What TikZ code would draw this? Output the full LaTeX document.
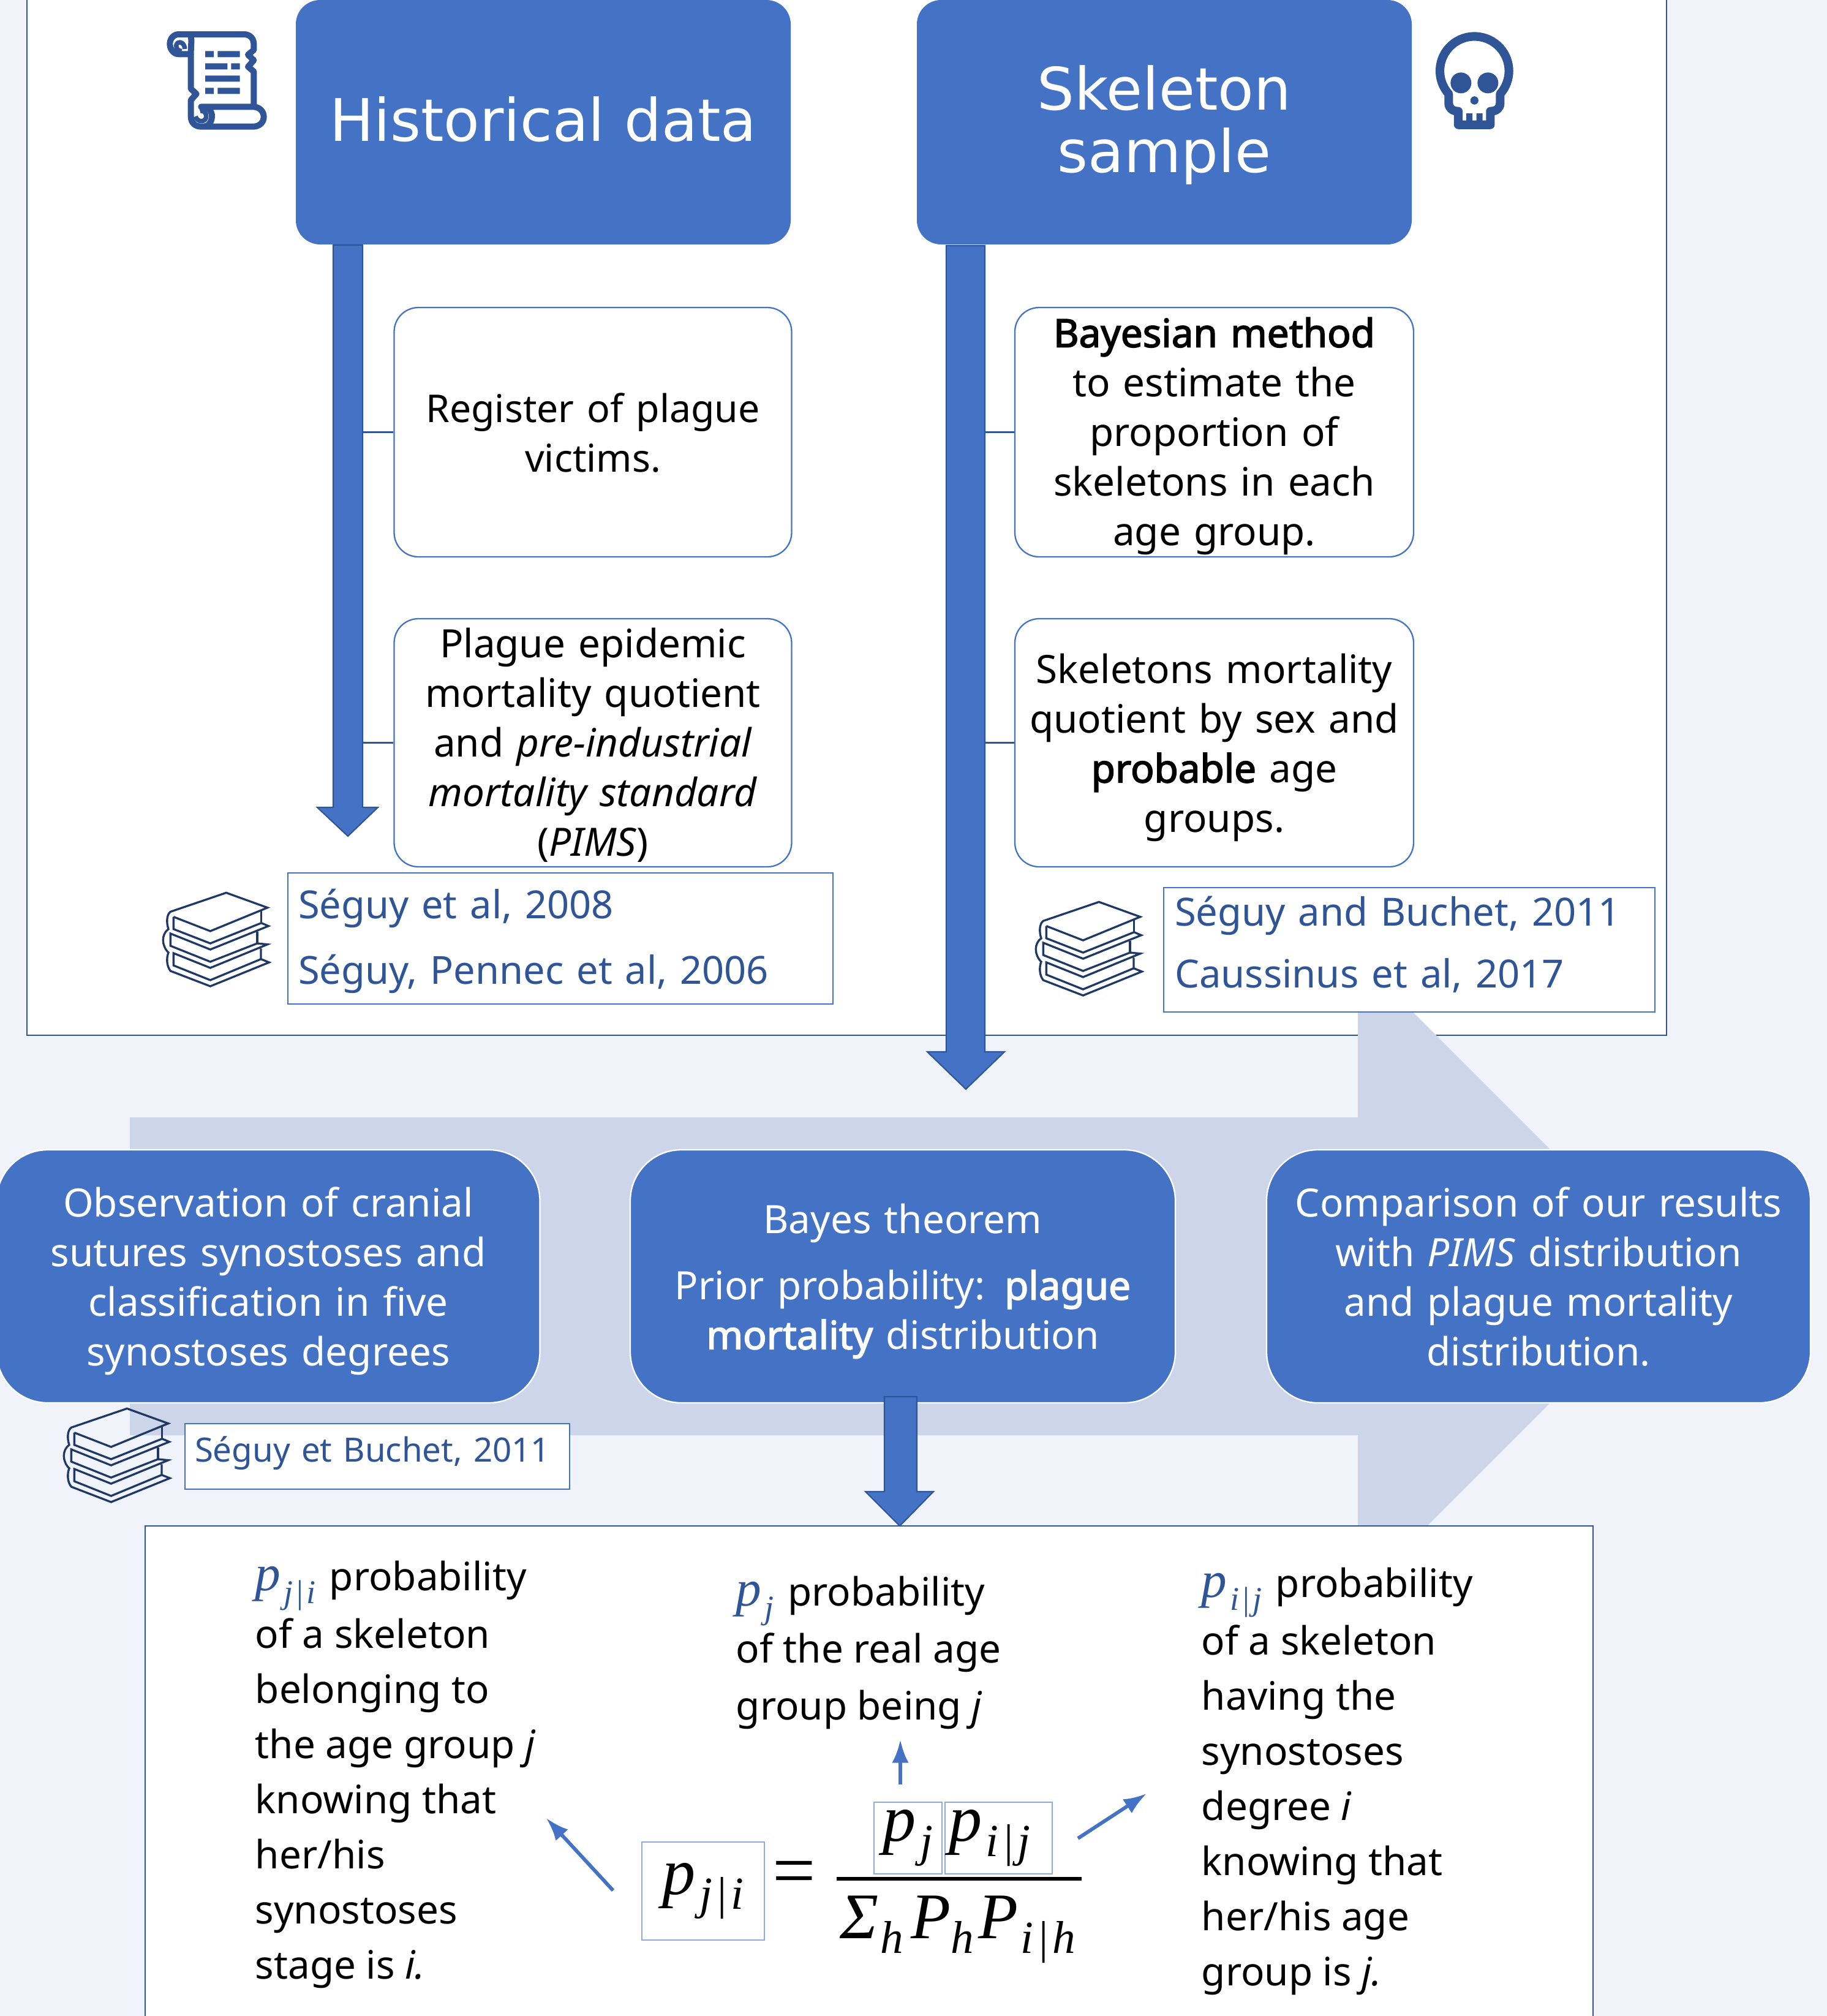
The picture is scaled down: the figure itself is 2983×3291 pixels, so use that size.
\documentclass[tikz,border=0pt]{standalone}
\usepackage{fontspec}
\usepackage{graphicx}
\setmainfont{Noto Sans}[AutoFakeBold=2.5]
\newfontfamily\titlef{DejaVu Sans}
\newfontfamily\mfont{Liberation Serif}
\definecolor{bgc}{HTML}{F0F3F9}
\definecolor{mainb}{HTML}{4472C4}
\definecolor{txtb}{HTML}{2F5597}
\definecolor{bookb}{HTML}{1F3864}
\definecolor{lightb}{HTML}{CDD5EA}
\definecolor{eqb}{HTML}{8FAADC}
\newcommand{\bodyf}{\fontsize{15.3}{19.4}\selectfont}
\newcommand{\lowf}{\fontsize{15.3}{21.6}\selectfont}
\newcommand{\ipm}[2]{{\color{txtb}\mfont\itshape\fontsize{20}{20}\selectfont #1\kern1.2pt\raisebox{-0.25em}{\fontsize{13}{13}\selectfont #2}\kern1.5pt}}
\newcommand{\subf}[1]{\raisebox{-5.8pt}{\fontsize{18}{18}\selectfont #1}}
\newcommand{\bigp}[2]{{\mfont\itshape\fontsize{26}{26}\selectfont #1\kern1.5pt\subf{#2}}}
\usetikzlibrary{arrows.meta}
\tikzset{
 textstruts/.style={execute at begin node=\strut,execute at end node=\strut},
 tdown/.style={execute at begin node={\rule{0pt}{\dimexpr0.7\baselineskip+#1\relax}},execute at end node=\strut},
 headbox/.style={fill=mainb,rounded corners=9.5pt,text=white,inner sep=0pt,align=center,text width=700*0.24pt,font=\titlef\fontsize{23}{24.7}\selectfont,tdown=5pt},
 infobox/.style={draw=mainb,line width=0.55pt,fill=white,rounded corners=9.5pt,inner sep=0pt,align=center,font=\bodyf,tdown=3.2pt},
 infotext/.style={inner sep=0pt,align=center,font=\bodyf,text width=640*0.24pt,textstruts},
 stepbox/.style={draw=white,line width=0.55pt,fill=mainb,rounded corners=20pt,text=white,inner sep=0pt,align=center,font=\bodyf,tdown=4pt},
 refbox/.style={draw=mainb,line width=0.55pt,fill=white,inner sep=0pt,align=left,text=txtb,textstruts},
 reftext/.style={inner sep=0pt,align=left,text=txtb,textstruts},
 eqbox/.style={draw=eqb,line width=0.55pt,inner sep=0pt},
 frame/.style={draw=txtb,line width=0.55pt,fill=white},
 tick/.style={draw=txtb,line width=0.55pt},
 blockarrow/.style={fill=mainb,draw=txtb,line width=0.5pt},
 thinarrow/.style={draw=mainb,line width=1.4pt,-{Latex[length=9pt,width=6.5pt]}},
 lowtext/.style={inner sep=0pt,align=left,font=\lowf,anchor=west,textstruts},
}
\begin{document}
\begin{tikzpicture}[x=0.24pt,y=-0.24pt]
\useasboundingbox (0,0) rectangle (2983,3291);
\fill[bgc] (0,0) rectangle (2983,3291);
% top frame
\path[frame] (44,-20) rectangle (2721,1690);
% big pale arrow
\fill[lightb] (212,1824) -- (2217,1824) -- (2217,1562) -- (2738,2083) -- (2217,2604) -- (2217,2343) -- (212,2343) -- cycle;
% bottom frame
\path[frame] (237,2491) rectangle (2601,3320);
% heads
\node[headbox,minimum width=808*0.24pt,minimum height=399*0.24pt] (hist) at (887,199.5) {Historical data};
\node[headbox,minimum width=808*0.24pt,minimum height=399*0.24pt] (skel) at (1901,199.5) {Skeleton\\sample};
% block arrows
\coordinate (shaftL) at (592,705);
\coordinate (shaftR) at (1608,705);
\path[blockarrow] (544,400) -- (592,400) -- (592,1318) -- (617,1318) -- (568,1365) -- (518,1318) -- (544,1318) -- cycle;
\path[blockarrow] (1545,401) -- (1608,401) -- (1608,1717) -- (1640,1717) -- (1577,1778) -- (1514,1717) -- (1545,1717) -- cycle;
% info boxes
\node[infobox,minimum width=649*0.24pt,minimum height=407*0.24pt,text width=640*0.24pt,font=\fontsize{15}{19.4}\selectfont,tdown=4pt] (reg) at (968,705.5) {Register of plague\\victims.};
\node[infobox,minimum width=649*0.24pt,minimum height=405*0.24pt] (pem) at (968,1212.5) {};
\node[infotext] (pemt) at ([yshift=-1.6pt]pem.center) {Plague epidemic\\mortality quotient\\and \textit{pre-industrial}\\\textit{mortality standard}\\(\textit{PIMS})};
\node[infobox,minimum width=651*0.24pt,minimum height=407*0.24pt] (bay) at (1982.5,705.5) {};
\node[infotext] (bayt) at ([yshift=-1.6pt]bay.center) {\textbf{Bayesian method}\\to estimate the\\proportion of\\skeletons in each\\age group.};
\node[infobox,minimum width=651*0.24pt,minimum height=405*0.24pt,text width=640*0.24pt,tdown=4pt] (ske) at (1982.5,1212.5) {Skeletons mortality\\quotient by sex and\\\textbf{probable} age\\groups.};
\draw[tick] (reg.west) -- (reg.west -| shaftL);
\draw[tick] (pem.west) -- (pem.west -| shaftL);
\draw[tick] (bay.west) -- (bay.west -| shaftR);
\draw[tick] (ske.west) -- (ske.west -| shaftR);
% references
\node[refbox,minimum width=890*0.24pt,minimum height=212*0.24pt,text width=856*0.24pt,font=\fontsize{15.15}{25.7}\selectfont] (r1) at (915,1532) {Séguy et al, 2008\\Séguy, Pennec et al, 2006};
\node[refbox,minimum width=802*0.24pt,minimum height=203*0.24pt] (r2) at (2301,1550.5) {};
\node[reftext,text width=766*0.24pt,font=\fontsize{15.2}{24.2}\selectfont] (r2t) at ([yshift=2pt]r2.center) {Séguy and Buchet, 2011\\Caussinus et al, 2017};
% middle steps
\node[stepbox,minimum width=887*0.24pt,minimum height=413*0.24pt,text width=860*0.24pt] (obs) at (438,2083.5) {Observation of cranial\\sutures synostoses and\\classification in five\\synostoses degrees};
\node[stepbox,minimum width=890*0.24pt,minimum height=413*0.24pt,text width=860*0.24pt] (bth) at (1474,2083.5) {Bayes theorem\\[6.5pt]Prior probability: \textbf{plague}\\\textbf{mortality} distribution};
\node[stepbox,minimum width=888*0.24pt,minimum height=413*0.24pt,text width=860*0.24pt] (cmp) at (2512,2083.5) {Comparison of our results\\with \textit{PIMS} distribution\\and plague mortality\\distribution.};
\path[blockarrow] (1444,2280) -- (1497,2280) -- (1497,2435) -- (1524,2435) -- (1469,2491) -- (1413,2435) -- (1444,2435) -- cycle;
\node[refbox,minimum width=628*0.24pt,minimum height=107*0.24pt] (r3) at (616,2377.5) {};
\node[reftext,text width=596*0.24pt,font=\fontsize{13.1}{16}\selectfont] (r3t) at ([yshift=1pt]r3.center) {Séguy et Buchet, 2011};
% lower texts
\node[lowtext] (tl) at (416,2903) {\ipm{p}{j\kern.8pt|\kern.8pt i} probability\\[1pt]of a skeleton\\belonging to\\the age group \textit{j}\\knowing that\\her/his\\synostoses\\stage is \textit{i.}};
\node[lowtext,font=\fontsize{15.3}{22.3}\selectfont] (tm) at (1201,2704) {\ipm{p}{j} probability\\of the real age\\group being \textit{j}};
\node[lowtext] (tr) at (1961,2914) {\ipm{p}{i\kern.8pt|\kern.8pt j} probability\\[1pt]of a skeleton\\having the\\synostoses\\degree \textit{i}\\knowing that\\her/his age\\group is \textit{j.}};
% formula
\node[eqbox,minimum width=200*0.24pt,minimum height=160*0.24pt] (e1) at (1148,3087) {\bigp{p}{j\kern1.2pt|\kern1.2pt i}};
\node[inner sep=0pt,font=\mfont\fontsize{30}{30}\selectfont] (eq) at (1296.5,3067) {=};
\node[eqbox,minimum width=111*0.24pt,minimum height=117*0.24pt] (e2) at (1482.5,3000.5) {\bigp{p}{j}};
\node[eqbox,minimum width=175*0.24pt,minimum height=117*0.24pt] (e3) at (1630.5,3000.5) {\bigp{p}{i\kern1.2pt|\kern1.2pt j}\hspace*{7pt}};
\coordinate (barL) at (1366,3067);
\coordinate (barR) at (1766,3067);
\draw[black,line width=1.5pt] (barL) -- (barR);
\node[inner sep=0pt,font=\mfont\itshape\fontsize{25.5}{26}\selectfont] (den) at (1563.5,3150) {Σ\kern.7pt\subf{h}\kern3pt P\subf{h}\kern2pt P\kern1pt\subf{i\kern1.2pt|\kern1.2pt h}};
\coordinate (aU0) at (1470,2913); \coordinate (aU1) at (1470,2840);
\coordinate (aR0) at (1760,3001); \coordinate (aR1) at (1872,2928);
\coordinate (aL0) at (1001,3086); \coordinate (aL1) at (892,2968);
\draw[thinarrow] (aU0) -- (aU1);
\draw[thinarrow] (aR0) -- (aR1);
\draw[thinarrow] (aL0) -- (aL1);
% scroll icon
\begin{scope}[shift={(200,0)},x=0.08pt,y=-0.08pt,draw=txtb,line width=2.4pt,line join=round]
\draw (335,180) .. controls (340,200) and (335,215) .. (335,265) -- (275,265) .. controls (250,265) and (232,240) .. (232,215) .. controls (232,190) and (250,168) .. (275,168) -- (595,168) .. controls (625,168) and (643,190) .. (643,215) -- (643,245) -- (615,268) -- (643,295) -- (615,327) -- (643,350) -- (643,525);
\draw (335,265) -- (335,435) -- (362,460) -- (335,490) -- (335,570) .. controls (335,600) and (355,620) .. (385,620) -- (640,620) .. controls (670,620) and (692,600) .. (692,572) .. controls (692,545) and (670,523) .. (640,523) -- (385,523) .. controls (420,523) and (440,545) .. (438,572) .. controls (436,600) and (420,620) .. (395,620);
\draw[line width=1.8pt] (290,250) .. controls (265,250) and (255,225) .. (270,210) .. controls (285,200) and (305,215) .. (305,240);
\draw[line width=1.8pt] (380,545) .. controls (400,535) and (420,565) .. (405,585) .. controls (390,600) and (365,595) .. (358,570);
\fill[txtb] (405,250) rectangle (447,280) (466,250) rectangle (575,280)
 (405,310) rectangle (514,340) (532,310) rectangle (575,340)
 (405,370) rectangle (575,400)
 (405,430) rectangle (447,460) (466,430) rectangle (575,460);
\end{scope}
% skull icon
\begin{scope}[shift={(2300,0)},x=0.08pt,y=-0.08pt,draw=txtb,line width=3.4pt,line join=round]
\draw (196,460) arc[start angle=138.2,end angle=401.8,radius=169] -- (448,505) .. controls (448,530) and (430,545) .. (400,545) -- (400,611) -- (243,611) -- (243,545) .. controls (215,545) and (196,530) .. (196,505) -- cycle;
\fill[txtb] (256,406) circle[radius=51] (388,406) circle[radius=51];
\fill[txtb] (282,555) rectangle (312,595) (332,555) rectangle (362,595);
\fill[txtb,rounded corners=3pt] (322,452) -- (356,512) -- (288,512) -- cycle;
\end{scope}
% book icons
\foreach \bx/\by in {220/1400,1645/1415,58/2242}{
\begin{scope}[shift={(\bx,\by)},x=0.08pt,y=-0.08pt,draw=bookb,line width=0.8pt,line join=miter]
\draw (190,290) -- (370,360) -- (650,245) -- (448,172) -- (175,265) .. controls (155,280) and (155,320) .. (165,350) .. controls (130,375) and (130,430) .. (165,465) .. controls (155,490) and (155,530) .. (175,555) -- (370,630) -- (658,513) -- (618,497);
\draw (190,290) -- (190,350) -- (370,420) -- (620,320) -- (655,335) -- (370,450) -- (175,372) -- (175,432) -- (370,510) -- (600,420) -- (650,425) -- (370,540) -- (190,468) -- (190,528) -- (370,600) -- (618,497) -- (618,445);
\draw (620,262) -- (620,320);
\draw (600,362) -- (600,420);
\end{scope}}
\end{tikzpicture}
\end{document}
